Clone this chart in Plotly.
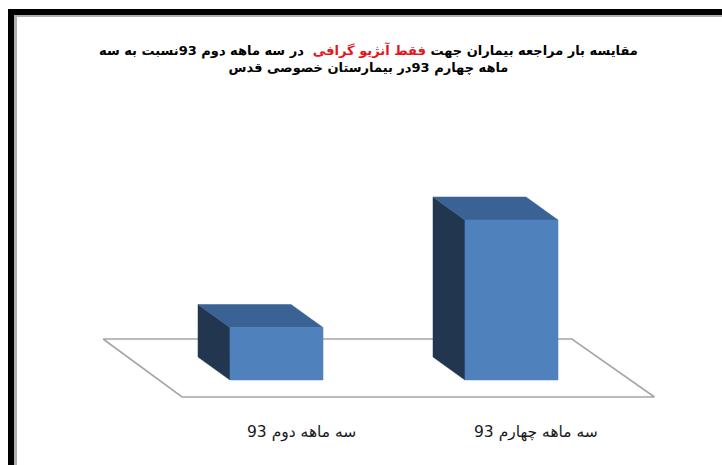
import plotly.graph_objects as go

# Data
categories = ["سه ماهه دوم 93", "سه ماهه چهارم 93"]
visits = [21, 64]

title_line1_a = "مقایسه بار مراجعه بیماران جهت "
title_red = "فقط آنژیو گرافی"
title_line1_b = "  در سه ماهه دوم 93نسبت به سه"
title_line2 = "ماهه چهارم 93در بیمارستان خصوصی قدس"

# 3D look: bar width (category units) and depth offset (x in category units, y in value units)
HALF_W = 0.198
DEPTH_X = -0.136
DEPTH_Y = 9.2

FRONT = "#4f81bd"
TOP = "#3b6294"
SIDE = "#22374f"
FLOOR_LINE = "#a6a6a6"

fig = go.Figure()

# floor plane
n = len(categories)
floor_x = [-0.738, n - 1 + 0.257, n - 1 + 0.6085, -0.402, -0.738]
floor_y = [16.4, 16.4, -6.8, -6.8, 16.4]
fig.add_trace(go.Scatter(x=floor_x, y=floor_y, mode="lines", fill="toself",
                         fillcolor="white", line=dict(color=FLOOR_LINE, width=1.6),
                         hoverinfo="skip", showlegend=False))

for i, (cat, v) in enumerate(zip(categories, visits)):
    x0, x1 = i - HALF_W, i + HALF_W
    # left side face
    fig.add_trace(go.Scatter(
        x=[x0, x0, x0 + DEPTH_X, x0 + DEPTH_X, x0],
        y=[0, v, v + DEPTH_Y, DEPTH_Y, 0],
        mode="lines", fill="toself", fillcolor=SIDE, line=dict(color=SIDE, width=0.5),
        hoverinfo="skip", showlegend=False))
    # top face
    fig.add_trace(go.Scatter(
        x=[x0, x1, x1 + DEPTH_X, x0 + DEPTH_X, x0],
        y=[v, v, v + DEPTH_Y, v + DEPTH_Y, v],
        mode="lines", fill="toself", fillcolor=TOP, line=dict(color=TOP, width=0.5),
        hoverinfo="skip", showlegend=False))
    # front face
    fig.add_trace(go.Scatter(
        x=[x0, x1, x1, x0, x0],
        y=[0, 0, v, v, 0],
        mode="lines", fill="toself", fillcolor=FRONT, line=dict(color=FRONT, width=0.5),
        name=cat, hovertemplate=f"{cat}: {v}<extra></extra>", showlegend=False))

annotations = []
for i, cat in enumerate(categories):
    annotations.append(dict(x=i + 0.105, y=-20.8, xref="x", yref="y", text=cat,
                            showarrow=False, xanchor="center", yanchor="middle",
                            font=dict(family="DejaVu Sans", size=15.5, color="#1a1a1a")))

title_html = (f"<b>{title_line1_a}<span style='color:#e8141b'>{title_red}</span>"
              f"{title_line1_b}<br>{title_line2}</b>")
annotations.append(dict(x=368 / 722, y=1 - 59 / 465, xref="paper", yref="paper",
                        text=title_html, showarrow=False, xanchor="center", yanchor="middle",
                        font=dict(family="DejaVu Sans", size=13, color="black")))

fig.update_layout(
    width=722, height=465,
    margin=dict(l=0, r=0, t=0, b=0),
    paper_bgcolor="white", plot_bgcolor="white",
    xaxis=dict(range=[-276.5 / 235, (722 - 276.5) / 235], visible=False, fixedrange=True),
    yaxis=dict(range=[-85 / 2.5, 380 / 2.5], visible=False, fixedrange=True),
    annotations=annotations,
)

# frame around the page
fig.add_shape(type="rect", xref="paper", yref="paper", x0=8 / 722, x1=1.02,
              y0=-0.02, y1=1 - 9 / 465, line=dict(width=0), fillcolor="black", layer="below")
fig.add_shape(type="rect", xref="paper", yref="paper", x0=14 / 722, x1=1.02,
              y0=-0.02, y1=1 - 15 / 465, line=dict(width=0), fillcolor="#b0b0b0", layer="below")
fig.add_shape(type="rect", xref="paper", yref="paper", x0=17 / 722, x1=1.02,
              y0=-0.02, y1=1 - 17 / 465, line=dict(width=0), fillcolor="white", layer="below")

fig.write_html("out.html")
